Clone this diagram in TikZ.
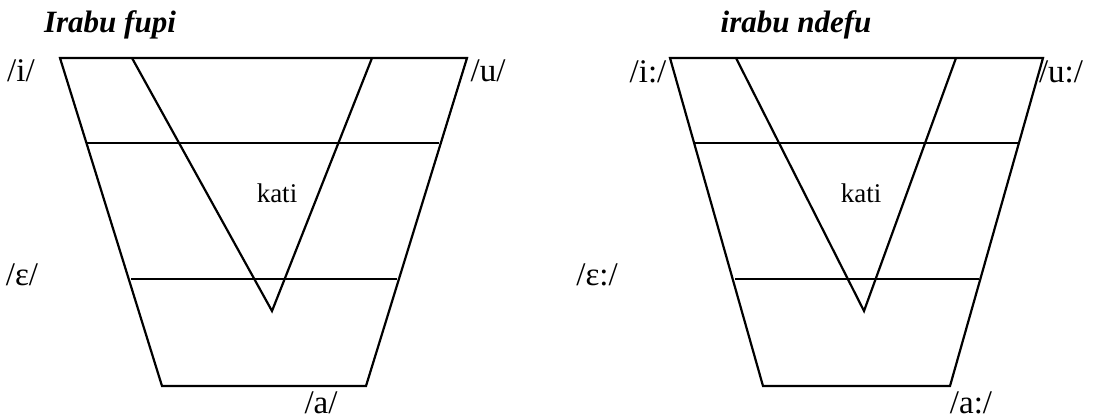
\documentclass[tikz,border=0pt]{standalone}
\usepackage{fontspec}
\setmainfont{Liberation Serif}
\begin{document}
\begin{tikzpicture}[x=0.5pt, y=-0.5pt, line width=1.1pt, line join=miter,
    every node/.style={inner sep=0pt},
    vowel/.style={font=\fontsize{16.5}{19}\selectfont},
    chartname/.style={font=\fontsize{15.5}{18}\selectfont\bfseries\itshape},
    region/.style={font=\fontsize{13.5}{16}\selectfont}]
    \useasboundingbox (0,0) rectangle (1107,418);
    % Irabu fupi
    \draw (60,58) -- (467,58) -- (366,386) -- (162,386) -- cycle;
    \draw (87,143) -- (439,143);
    \draw (131,279) -- (397,279);
    \draw (132,58) -- (272,311) -- (372,58);
    \node[chartname] (fupi) at (110,25) {Irabu fupi};
    \node[vowel] (fi) at (21,71) {/i/};
    \node[vowel] (fu) at (488,71) {/u/};
    \node[vowel] (fe) at (22,275) {/ɛ/};
    \node[vowel] (fa) at (321,403) {/a/};
    \node[region] (fkati) at (277,193) {kati};
    % irabu ndefu
    \draw (670,58) -- (1043,58) -- (950,386) -- (763,386) -- cycle;
    \draw (695,143) -- (1018,143);
    \draw (735,279) -- (979,279);
    \draw (736,58) -- (864,311) -- (956,58);
    \node[chartname] (ndefu) at (796,25) {irabu ndefu};
    \node[vowel] (ni) at (648,72) {/i:/};
    \node[vowel] (nu) at (1061,72) {/u:/};
    \node[vowel] (ne) at (597,275) {/ɛ:/};
    \node[vowel] (na) at (971,403) {/a:/};
    \node[region] (nkati) at (861,193) {kati};
\end{tikzpicture}
\end{document}
